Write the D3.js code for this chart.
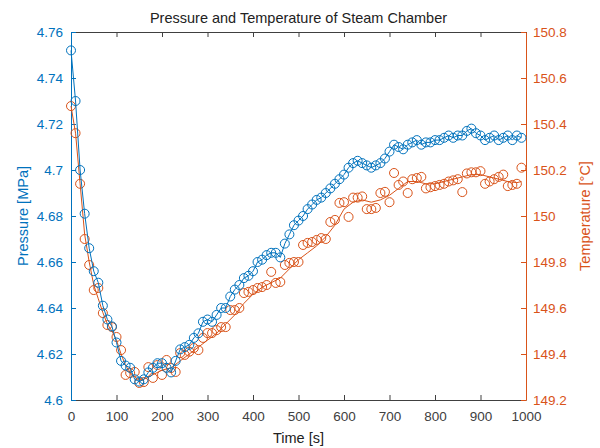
<!DOCTYPE html>
<html>
<head>
<meta charset="utf-8">
<script src="https://cdn.jsdelivr.net/npm/d3@7"></script>
<style>
  body { margin: 0; background: #fff; }
  text { font-family: "Liberation Sans", Arial, sans-serif; }
</style>
</head>
<body>
<div id="chart"></div>
<script>
// sample times [s]
const time = d3.range(0, 1000, 10);

// pressure [MPa], one value per sample
const pressure = [
  4.752, 4.730, 4.700, 4.681, 4.666, 4.656, 4.651, 4.641, 4.635, 4.632,
  4.625, 4.617, 4.615, 4.614, 4.609, 4.608, 4.609, 4.612, 4.614, 4.616,
  4.616, 4.614, 4.612, 4.617, 4.622, 4.623, 4.624, 4.627, 4.629, 4.634,
  4.635, 4.634, 4.637, 4.640, 4.640, 4.645, 4.648, 4.650, 4.653, 4.654,
  4.656, 4.660, 4.661, 4.663, 4.664, 4.664, 4.662, 4.668, 4.672, 4.676,
  4.678, 4.680, 4.683, 4.685, 4.687, 4.688, 4.690, 4.692, 4.694, 4.696,
  4.698, 4.701, 4.703, 4.704, 4.703, 4.702, 4.701, 4.702, 4.703, 4.705,
  4.708, 4.711, 4.710, 4.709, 4.711, 4.712, 4.713, 4.711, 4.712, 4.712,
  4.713, 4.713, 4.714, 4.715, 4.714, 4.715, 4.715, 4.717, 4.718, 4.716,
  4.715, 4.713, 4.714, 4.715, 4.713, 4.714, 4.715, 4.713, 4.715, 4.714
];

// temperature [°C], one value per sample
const temperature = [
  150.478, 150.360, 150.140, 149.900, 149.787, 149.678, 149.687, 149.578, 149.526, 149.517,
  149.474, 149.417, 149.309, 149.317, 149.322, 149.274, 149.278, 149.343, 149.296, 149.352,
  149.309, 149.374, 149.339, 149.322, 149.404, 149.396, 149.410, 149.426, 149.417, 149.470,
  149.491, 149.491, 149.504, 149.517, 149.517, 149.591, 149.591, 149.600, 149.665, 149.670,
  149.678, 149.687, 149.691, 149.700, 149.757, 149.709, 149.713, 149.787, 149.796, 149.800,
  149.800, 149.874, 149.883, 149.887, 149.896, 149.904, 149.900, 149.974, 149.983, 150.057,
  150.060, 149.996, 150.080, 150.080, 150.085, 150.030, 150.030, 150.035, 150.100, 150.105,
  150.060, 150.187, 150.135, 150.150, 150.100, 150.160, 150.165, 150.170, 150.120, 150.125,
  150.130, 150.135, 150.140, 150.150, 150.155, 150.160, 150.104, 150.185, 150.190, 150.190,
  150.195, 150.140, 150.150, 150.160, 150.170, 150.180, 150.130, 150.135, 150.140, 150.210
];

// smoothed temperature trend drawn as the orange line
const trendTime = [0, 10, 20, 30, 40, 50, 60, 70, 80, 90, 100, 110, 120, 130, 140, 150, 160,
  180, 200, 220, 240, 260, 280, 300, 320, 340, 360, 380, 400, 420, 440, 460, 480, 500,
  520, 540, 560, 580, 600, 620, 640, 660, 680, 700, 720, 740, 760, 780, 800, 820, 840,
  860, 880, 900, 920, 940, 960, 980, 990];
const trendTemp = [150.478, 150.360, 150.140, 149.920, 149.800, 149.700, 149.640, 149.580,
  149.530, 149.500, 149.460, 149.400, 149.350, 149.320, 149.300, 149.285, 149.290,
  149.310, 149.330, 149.340, 149.370, 149.400, 149.430, 149.460, 149.490, 149.530,
  149.570, 149.620, 149.660, 149.690, 149.710, 149.730, 149.770, 149.810, 149.840,
  149.870, 149.910, 149.960, 150.030, 150.060, 150.070, 150.060, 150.070, 150.090,
  150.120, 150.150, 150.150, 150.140, 150.140, 150.150, 150.160, 150.170, 150.180,
  150.180, 150.170, 150.160, 150.150, 150.145, 150.150];

const xTicks = d3.range(0, 1001, 100);
const pTicks = [4.6, 4.62, 4.64, 4.66, 4.68, 4.7, 4.72, 4.74, 4.76];
const tTicks = [149.2, 149.4, 149.6, 149.8, 150, 150.2, 150.4, 150.6, 150.8];

const blue = '#0072BD';
const orange = '#D95319';
const grey = '#404040';

const W = 600, H = 448;
const margin = { top: 32, right: 74, bottom: 48, left: 71 };
const width = W - margin.left - margin.right;
const height = H - margin.top - margin.bottom;

const svg = d3.select('#chart')
  .append('svg')
    .attr('width', W)
    .attr('height', H);

const g = svg.append('g')
  .attr('transform', `translate(${margin.left},${margin.top})`);

const x = d3.scaleLinear().domain([0, 1000]).range([0, width]);
const yP = d3.scaleLinear().domain([4.6, 4.76]).range([height, 0]);
const yT = d3.scaleLinear().domain([149.2, 150.8]).range([height, 0]);

const fmt0 = d => String(d);
const fmt2 = d => String(+d.toFixed(2));
const fmt1 = d => String(+d.toFixed(1));

function styleAxis(sel, color) {
  sel.select('.domain').attr('stroke', color);
  sel.selectAll('.tick line').attr('stroke', color);
  sel.selectAll('.tick text')
    .attr('fill', color)
    .style('font-size', '13.5px');
}

// bottom axis
g.append('g')
  .attr('transform', `translate(0,${height})`)
  .call(d3.axisBottom(x).tickValues(xTicks).tickSizeInner(-5).tickSizeOuter(0).tickPadding(11).tickFormat(fmt0))
  .call(s => styleAxis(s, grey));

// top axis, ticks only
g.append('g')
  .call(d3.axisTop(x).tickValues(xTicks).tickSizeInner(-5).tickSizeOuter(0).tickFormat(''))
  .call(s => styleAxis(s, grey));

// left axis
g.append('g')
  .call(d3.axisLeft(yP).tickValues(pTicks).tickSizeInner(-5).tickSizeOuter(0).tickPadding(8).tickFormat(fmt2))
  .call(s => styleAxis(s, blue));

// right axis
g.append('g')
  .attr('transform', `translate(${width},0)`)
  .call(d3.axisRight(yT).tickValues(tTicks).tickSizeInner(-5).tickSizeOuter(0).tickPadding(7).tickFormat(fmt1))
  .call(s => styleAxis(s, orange));

// temperature series
const tempPts = time.map((t, i) => [t, temperature[i]]);
const trendPts = trendTime.map((t, i) => [t, trendTemp[i]]);

g.append('path')
  .datum(trendPts)
  .attr('fill', 'none')
  .attr('stroke', orange)
  .attr('stroke-width', 1)
  .attr('d', d3.line().x(d => x(d[0])).y(d => yT(d[1])));

g.selectAll('circle.temp')
  .data(tempPts)
  .enter()
  .append('circle')
    .attr('class', 'temp')
    .attr('cx', d => x(d[0]))
    .attr('cy', d => yT(d[1]))
    .attr('r', 4.5)
    .attr('fill', 'none')
    .attr('stroke', orange)
    .attr('stroke-width', 1);

// pressure series
const presPts = time.map((t, i) => [t, pressure[i]]);

g.append('path')
  .datum(presPts)
  .attr('fill', 'none')
  .attr('stroke', blue)
  .attr('stroke-width', 1)
  .attr('d', d3.line().x(d => x(d[0])).y(d => yP(d[1])));

g.selectAll('circle.pres')
  .data(presPts)
  .enter()
  .append('circle')
    .attr('class', 'pres')
    .attr('cx', d => x(d[0]))
    .attr('cy', d => yP(d[1]))
    .attr('r', 4.5)
    .attr('fill', 'none')
    .attr('stroke', blue)
    .attr('stroke-width', 1);

// title and labels
svg.append('text')
  .attr('x', margin.left + width / 2)
  .attr('y', 23)
  .attr('text-anchor', 'middle')
  .attr('fill', '#222')
  .style('font-size', '14.5px')
  .text('Pressure and Temperature of Steam Chamber');

svg.append('text')
  .attr('x', margin.left + width / 2)
  .attr('y', 443)
  .attr('text-anchor', 'middle')
  .attr('fill', '#222')
  .style('font-size', '14.5px')
  .text('Time [s]');

svg.append('text')
  .attr('transform', `translate(28,${margin.top + height / 2}) rotate(-90)`)
  .attr('text-anchor', 'middle')
  .attr('fill', blue)
  .style('font-size', '14.5px')
  .text('Pressure [MPa]');

svg.append('text')
  .attr('transform', `translate(590,${margin.top + height / 2}) rotate(-90)`)
  .attr('text-anchor', 'middle')
  .attr('fill', orange)
  .style('font-size', '14.5px')
  .text('Temperature [°C]');
</script>
</body>
</html>
